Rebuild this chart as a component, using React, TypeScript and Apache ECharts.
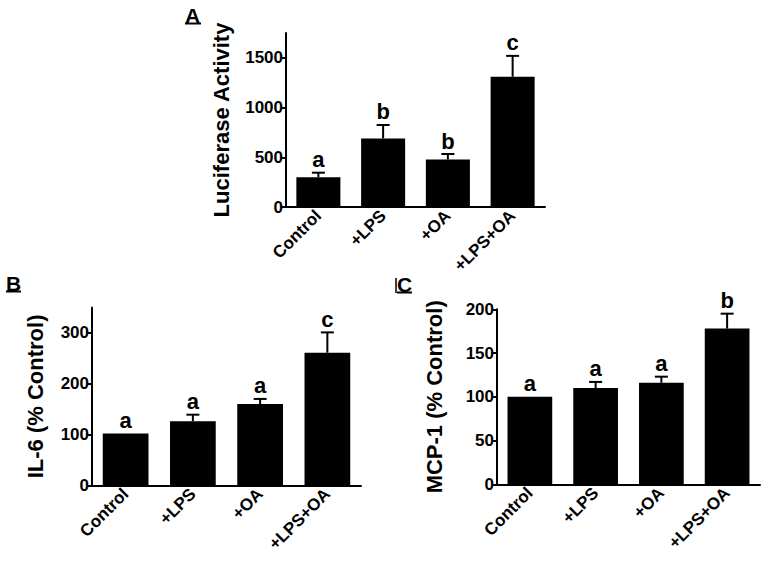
import React, { useEffect, useRef } from "react";
import * as echarts from "echarts";

const categories = ["Control", "+LPS", "+OA", "+LPS+OA"];

const luciferaseMean = [300, 690, 478, 1310];
const luciferaseErr = [45, 135, 55, 210];
const luciferaseLetters = ["a", "b", "b", "c"];
const luciferaseTicks = [0, 500, 1000, 1500];

const il6Mean = [102, 126, 160, 261];
const il6Err = [0, 13, 10, 40];
const il6Letters = ["a", "a", "a", "c"];
const il6Ticks = [0, 100, 200, 300];

const mcp1Mean = [100, 110, 116, 178];
const mcp1Err = [0, 7, 7, 17];
const mcp1Letters = ["a", "a", "a", "b"];
const mcp1Ticks = [0, 50, 100, 150, 200];

const FONT = "'Liberation Sans', Arial, Helvetica, sans-serif";

export default function App() {
  const ref = useRef<HTMLDivElement>(null);

  useEffect(() => {
    if (!ref.current) return;
    const chart = echarts.init(ref.current, undefined, { renderer: "svg" });

    const grids = [
      { left: 286, top: 33, width: 259, height: 174 },
      { left: 92, top: 307.5, width: 269, height: 177.8 },
      { left: 497, top: 309.3, width: 263, height: 175 },
    ];

    const panels = [
      { mean: luciferaseMean, err: luciferaseErr, letters: luciferaseLetters, ticks: luciferaseTicks, max: 1750, interval: 500, name: "Luciferase Activity", gap: 54 },
      { mean: il6Mean, err: il6Err, letters: il6Letters, ticks: il6Ticks, max: 350, interval: 100, name: "IL-6 (% Control)", gap: 46 },
      { mean: mcp1Mean, err: mcp1Err, letters: mcp1Letters, ticks: mcp1Ticks, max: 200, interval: 50, name: "MCP-1 (% Control)", gap: 52 },
    ];

    const xAxis = panels.map((_, i) => ({
      type: "category",
      gridIndex: i,
      data: categories,
      axisLine: { lineStyle: { color: "#000", width: 2 } },
      axisTick: { alignWithLabel: true, length: 5, lineStyle: { color: "#000", width: 2 } },
      axisLabel: {
        rotate: 45,
        margin: 6,
        color: "#000",
        fontFamily: FONT,
        fontWeight: "bold",
        fontSize: 17,
        interval: 0,
      },
    }));

    const yAxis = panels.map((p, i) => ({
      type: "value",
      gridIndex: i,
      min: 0,
      max: p.max,
      interval: p.interval,
      name: p.name,
      nameLocation: "middle",
      nameRotate: 90,
      nameGap: p.gap,
      nameTextStyle: { color: "#000", fontFamily: FONT, fontWeight: "bold", fontSize: 22 },
      splitLine: { show: false },
      axisLine: { show: true, lineStyle: { color: "#000", width: 2 } },
      axisTick: { show: true, length: 5, customValues: p.ticks, lineStyle: { color: "#000", width: 2 } },
      axisLabel: {
        customValues: p.ticks,
        formatter: (v: number) => String(v),
        margin: 3,
        color: "#000",
        fontFamily: FONT,
        fontWeight: "bold",
        fontSize: 17,
      },
    }));

    const series: any[] = [];
    panels.forEach((p, i) => {
      series.push({
        type: "bar",
        xAxisIndex: i,
        yAxisIndex: i,
        data: p.mean,
        barWidth: "68%",
        itemStyle: { color: "#000" },
        z: 2,
      });
      series.push({
        type: "custom",
        xAxisIndex: i,
        yAxisIndex: i,
        z: 3,
        data: p.mean.map((m, k) => [k, m, p.err[k]]),
        renderItem: (params: any, api: any) => {
          const idx = api.value(0);
          const m = api.value(1);
          const e = api.value(2);
          const base = api.coord([idx, m]);
          const top = api.coord([idx, m + e]);
          const letter = p.letters[params.dataIndex];
          const children: any[] = [];
          if (e > 0) {
            children.push({
              type: "line",
              shape: { x1: top[0], y1: base[1], x2: top[0], y2: top[1] },
              style: { stroke: "#000", lineWidth: 2 },
            });
            children.push({
              type: "line",
              shape: { x1: top[0] - 6.5, y1: top[1], x2: top[0] + 6.5, y2: top[1] },
              style: { stroke: "#000", lineWidth: 2 },
            });
          }
          children.push({
            type: "text",
            style: {
              text: letter,
              x: top[0],
              y: top[1] - 2,
              align: "center",
              verticalAlign: "bottom",
              fill: "#000",
              font: `bold 22px ${FONT}`,
            },
          });
          return { type: "group", children };
        },
      });
    });

    const panelLabel = (t: string, x: number, y: number, w: number) => [
      {
        type: "text",
        left: x,
        top: y,
        style: { text: t, fill: "#000", font: `bold 21px ${FONT}` },
      },
      {
        type: "line",
        shape: { x1: x, y1: y + 18.5, x2: x + w, y2: y + 18.5 },
        style: { stroke: "#000", lineWidth: 2 },
      },
    ];

    chart.setOption({
      animation: false,
      backgroundColor: "#fff",
      grid: grids.map((g) => ({ ...g, containLabel: false })),
      xAxis,
      yAxis,
      series,
      graphic: [
        ...panelLabel("A", 185, 5, 16),
        ...panelLabel("B", 6, 273, 15),
        ...panelLabel("C", 397, 274, 15),
        {
          type: "line",
          shape: { x1: 396, y1: 278, x2: 396, y2: 293 },
          style: { stroke: "#000", lineWidth: 1.5 },
        },
      ],
    });

    return () => chart.dispose();
  }, []);

  return (
    <div
      ref={ref}
      style={{ position: "fixed", left: 0, top: 0, width: 768, height: 562, background: "#fff" }}
    />
  );
}
